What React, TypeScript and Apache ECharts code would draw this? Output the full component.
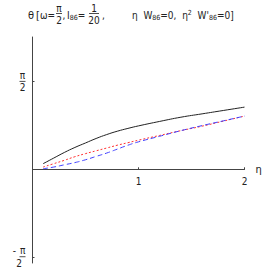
import React, { useEffect, useRef } from "react";
import * as echarts from "echarts";

const etaValues = [0.1, 0.2, 0.3, 0.4, 0.5, 0.6, 0.7, 0.8, 0.9, 1.0, 1.2, 1.4, 1.6, 1.8, 2.0];
const blackTheta = [0.10, 0.20, 0.30, 0.39, 0.47, 0.55, 0.62, 0.68, 0.73, 0.775, 0.855, 0.93, 0.99, 1.05, 1.11];
const redTheta = [0.04, 0.10, 0.16, 0.225, 0.28, 0.33, 0.38, 0.43, 0.475, 0.52, 0.605, 0.69, 0.77, 0.86, 0.95];
const blueTheta = [0.01, 0.04, 0.08, 0.12, 0.17, 0.23, 0.29, 0.36, 0.43, 0.49, 0.59, 0.69, 0.78, 0.865, 0.95];
const xTickLabels = ["", "1", "2"];
const yTicks = [-Math.PI / 2, Math.PI / 2];
const yMin = -1.673;
const yMax = 2.362;

const FONT = '"Liberation Sans Narrow", "DejaVu Sans Condensed", "DejaVu Sans", sans-serif';
const TXT = "#222";
const AXIS = "#444";
const GRID = { left: 32.5, right: 28.5, top: 37, bottom: 10 };

function pairs(ys: number[]) {
  return etaValues.map((x, i) => [x, ys[i]]);
}

export default function App() {
  const ref = useRef<HTMLDivElement>(null);
  useEffect(() => {
    if (!ref.current) return;
    const chart = echarts.init(ref.current, null, { renderer: "svg" });
    const plotH = chart.getHeight() - GRID.top - GRID.bottom;
    const zeroOffset = -((0 - yMin) / (yMax - yMin)) * plotH;
    const t = (text: string, x: number, y: number, size = 10, align = "left") => ({
      type: "text",
      x,
      y,
      style: { text, fontSize: size, fontFamily: FONT, fill: TXT, align, verticalAlign: "middle" },
    });
    const bar = (cx: number, y: number, w: number) => ({
      type: "rect",
      shape: { x: cx - w / 2, y, width: w, height: 0.8 },
      style: { fill: TXT },
    });
    const richTxt = (text: string, x: number, y: number) => ({
      type: "text",
      x,
      y,
      style: {
        text,
        fontFamily: FONT,
        fill: TXT,
        verticalAlign: "middle",
        rich: {
          m: { fontSize: 10, fontFamily: FONT, fill: TXT },
          s: { fontSize: 7, fontFamily: FONT, fill: TXT, padding: [5, 0, 0, 0] },
          p: { fontSize: 7, fontFamily: FONT, fill: TXT, padding: [0, 0, 6, 0] },
        },
      },
    });
    chart.setOption({
      animation: false,
      grid: { ...GRID, containLabel: false, outerBoundsMode: "none" },
      xAxis: {
        type: "value",
        min: 0,
        max: 2,
        interval: 1,
        position: "bottom",
        offset: zeroOffset,
        axisLine: { show: true, onZero: false, lineStyle: { color: AXIS, width: 1 } },
        axisTick: { show: true, inside: true, length: 2, lineStyle: { color: AXIS } },
        axisLabel: {
          fontSize: 10,
          fontFamily: FONT,
          color: TXT,
          margin: 7,
          formatter: (v: number) => xTickLabels[Math.round(v)],
        },
        splitLine: { show: false },
        name: "η",
        nameLocation: "end",
        nameGap: 11,
        nameTextStyle: { fontSize: 11, fontFamily: FONT, color: TXT, verticalAlign: "middle" },
      },
      yAxis: {
        type: "value",
        min: yMin,
        max: yMax,
        axisLine: { show: true, onZero: false, lineStyle: { color: AXIS, width: 1 } },
        axisTick: { show: true, inside: true, length: 2, customValues: yTicks, lineStyle: { color: AXIS } },
        axisLabel: {
          customValues: yTicks,
          margin: 7,
          formatter: (v: number) => (v < 0 ? "{m|-}{n|π}\n{b| }\n{e|}{d|2}" : "{n|π}\n{b| }\n{d|2}"),
          rich: {
            m: { fontSize: 10, fontFamily: FONT, color: TXT, padding: [0, 4, 0, 0] },
            n: { fontSize: 10, fontFamily: FONT, color: TXT, align: "center", lineHeight: 11 },
            b: { fontSize: 1, lineHeight: 1, height: 0.8, width: 6, backgroundColor: TXT },
            e: { width: 0 },
            d: { fontSize: 10, fontFamily: FONT, color: TXT, align: "center", lineHeight: 11 },
          },
        },
        splitLine: { show: false },
      },
      series: [
        { type: "line", data: pairs(blackTheta), smooth: true, showSymbol: false, lineStyle: { color: "#222", width: 1 } },
        { type: "line", data: pairs(redTheta), smooth: true, showSymbol: false, lineStyle: { color: "#ff3030", width: 1, type: [2, 2] } },
        { type: "line", data: pairs(blueTheta), smooth: true, showSymbol: false, lineStyle: { color: "#4040ff", width: 1, type: [5, 3] } },
      ],
      graphic: [
        t("θ", 28, 15.5, 11),
        t("[", 36, 15.5, 11),
        t("ω=", 40, 15.5, 10),
        t("π", 59, 8, 10, "center"),
        bar(59, 13, 6),
        t("2", 59, 20, 10, "center"),
        t(",", 62.5, 15.5, 10),
        richTxt("{m|I}{s|86}{m|=}", 67, 15.5),
        t("1", 94, 8, 10, "center"),
        bar(94, 13, 10),
        t("20", 94, 20, 10, "center"),
        t(",", 102, 15.5, 10),
        richTxt("{m|η  W}{s|86}{m|=0,  η}{p|2}{m|  W'}{s|86}{m|=0]}", 132, 15.5),
      ],
    });
    return () => chart.dispose();
  }, []);
  return <div ref={ref} style={{ width: 273, height: 273, position: "absolute", left: 0, top: 0 }} />;
}
